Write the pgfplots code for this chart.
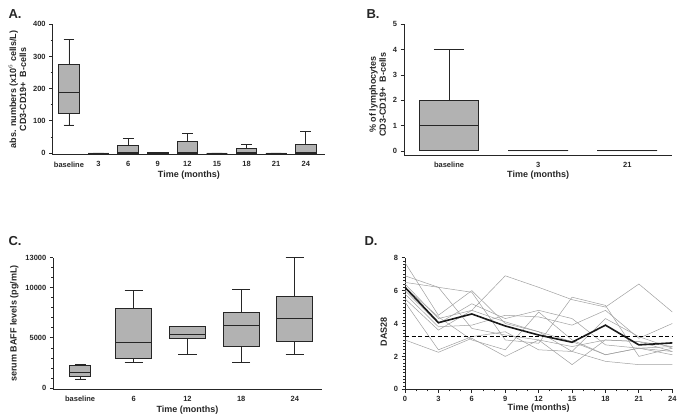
\documentclass[border=0pt]{standalone}
\usepackage{fontspec}
\setmainfont{Liberation Sans}
\usepackage{pgfplots}
\pgfplotsset{compat=1.18}
\usepgfplotslibrary{statistics}
\definecolor{boxfill}{HTML}{B2B2B2}
\definecolor{axcol}{HTML}{262626}
\definecolor{pline}{HTML}{A0A0A0}
\pgfplotsset{
  gp/.style={
    scale only axis,
    axis lines=left,
    axis line style={axcol, line width=0.9pt, -},
    tick align=outside,
    tick style={axcol, line width=0.8pt},
    major tick length=3.5pt,
    minor tick length=2pt,
    tick label style={font=\bfseries\fontsize{7.5}{8.5}\selectfont, text=axcol},
    label style={font=\bfseries\fontsize{9}{10}\selectfont, text=axcol},
    /pgf/number format/assume math mode=true,
    /pgf/number format/1000 sep={},
    scaled ticks=false,
    clip=false,
    boxplot/draw direction=y,
    xlabel={Time (months)},
    xlabel style={inner sep=0pt, yshift=0pt},
    ylabel style={align=center},
  },
  bx/.style={draw=axcol, fill=boxfill, line width=0.9pt, solid, mark=none},
}
\begin{document}
\begin{tikzpicture}
\useasboundingbox (0,0) rectangle (685pt,417pt);
% panel labels
\node[font=\bfseries\fontsize{13}{14}\selectfont, anchor=west, text=axcol] at (5pt,402.5pt) {A.};
\node[font=\bfseries\fontsize{13}{14}\selectfont, anchor=west, text=axcol] at (363pt,403pt) {B.};
\node[font=\bfseries\fontsize{13}{14}\selectfont, anchor=west, text=axcol] at (5pt,176pt) {C.};
\node[font=\bfseries\fontsize{13}{14}\selectfont, anchor=west, text=axcol] at (361pt,176pt) {D.};

% ---------- A ----------
\begin{axis}[gp,
  at={(52.7pt,262.4pt)}, anchor=south west,
  width=272.3pt, height=130.3pt,
  xmin=-0.55, xmax=8.65, ymin=-5, ymax=400,
  xtick={0,...,8},
  xticklabels={baseline,3,6,9,12,15,18,21,24},
  x tick style={draw=none},
  ytick={0,100,200,300,400},
  minor y tick num=1,
  ylabel={abs. numbers (x10$^{6}$ cells/L)\\CD3-CD19+\ \ B-cells},
]
\addplot[bx, boxplot prepared={draw position=0, lower whisker=87, lower quartile=123, median=188, upper quartile=275, upper whisker=352, box extend=0.7, whisker extend=0.36}] coordinates {};
\addplot[bx, boxplot prepared={draw position=1, lower whisker=0, lower quartile=0, median=0, upper quartile=0, upper whisker=0, box extend=0.7, whisker extend=0.36}] coordinates {};
\addplot[bx, boxplot prepared={draw position=2, lower whisker=0, lower quartile=0, median=1, upper quartile=22, upper whisker=46, box extend=0.7, whisker extend=0.36}] coordinates {};
\addplot[bx, boxplot prepared={draw position=3, lower whisker=0, lower quartile=0, median=1, upper quartile=3, upper whisker=3, box extend=0.7, whisker extend=0.36}] coordinates {};
\addplot[bx, boxplot prepared={draw position=4, lower whisker=0, lower quartile=0, median=1, upper quartile=35, upper whisker=60, box extend=0.7, whisker extend=0.36}] coordinates {};
\addplot[bx, boxplot prepared={draw position=5, lower whisker=0, lower quartile=0, median=0, upper quartile=0, upper whisker=0, box extend=0.7, whisker extend=0.36}] coordinates {};
\addplot[bx, boxplot prepared={draw position=6, lower whisker=0, lower quartile=0, median=1, upper quartile=15, upper whisker=26, box extend=0.7, whisker extend=0.36}] coordinates {};
\addplot[bx, boxplot prepared={draw position=7, lower whisker=0, lower quartile=0, median=0, upper quartile=0, upper whisker=0, box extend=0.7, whisker extend=0.36}] coordinates {};
\addplot[bx, boxplot prepared={draw position=8, lower whisker=0, lower quartile=0, median=1, upper quartile=28, upper whisker=67, box extend=0.7, whisker extend=0.36}] coordinates {};
\end{axis}

% ---------- B ----------
\begin{axis}[gp,
  at={(404pt,262pt)}, anchor=south west,
  width=268.3pt, height=130.7pt,
  xmin=-0.505, xmax=2.505, ymin=-0.16, ymax=5,
  xtick={0,1,2},
  xticklabels={baseline,3,21},
  x tick style={draw=none},
  ytick={0,1,2,3,4,5},
  ylabel={\%\ of lymphocytes\\CD3-CD19+\ \ B-cells},
  ylabel style={xshift=-5pt},
]
\addplot[bx, boxplot prepared={draw position=0, lower whisker=0, lower quartile=0, median=1, upper quartile=2, upper whisker=4, box extend=0.67, whisker extend=0.34}] coordinates {};
\addplot[bx, boxplot prepared={draw position=1, lower whisker=0, lower quartile=0, median=0, upper quartile=0, upper whisker=0, box extend=0.67, whisker extend=0.34}] coordinates {};
\addplot[bx, boxplot prepared={draw position=2, lower whisker=0, lower quartile=0, median=0, upper quartile=0, upper whisker=0, box extend=0.67, whisker extend=0.34}] coordinates {};
\end{axis}

% ---------- C (values in thousands of pg/mL) ----------
\begin{axis}[gp,
  at={(53.3pt,27.5pt)}, anchor=south west,
  width=268.4pt, height=131.8pt,
  xmin=-0.5, xmax=4.5, ymin=-0.15, ymax=13,
  xtick={0,...,4},
  xticklabels={baseline,6,12,18,24},
  x tick style={draw=none},
  ytick={0,5,10,13},
  yticklabels={0,5000,10000,13000},
  minor ytick={1,2,3,4,6,7,8,9,11,12},
  ylabel={serum BAFF levels (pg/mL)},
]
\addplot[bx, boxplot prepared={draw position=0, lower whisker=0.90, lower quartile=1.15, median=1.55, upper quartile=2.20, upper whisker=2.32, box extend=0.39, whisker extend=0.2}] coordinates {};
\addplot[bx, boxplot prepared={draw position=1, lower whisker=2.50, lower quartile=2.92, median=4.52, upper quartile=7.96, upper whisker=9.70, box extend=0.67, whisker extend=0.34}] coordinates {};
\addplot[bx, boxplot prepared={draw position=2, lower whisker=3.34, lower quartile=4.95, median=5.31, upper quartile=6.17, upper whisker=6.17, box extend=0.67, whisker extend=0.34}] coordinates {};
\addplot[bx, boxplot prepared={draw position=3, lower whisker=2.56, lower quartile=4.19, median=6.20, upper quartile=7.49, upper whisker=9.80, box extend=0.67, whisker extend=0.34}] coordinates {};
\addplot[bx, boxplot prepared={draw position=4, lower whisker=3.33, lower quartile=4.65, median=6.93, upper quartile=9.15, upper whisker=13.0, box extend=0.67, whisker extend=0.34}] coordinates {};
\end{axis}

% ---------- D ----------
\begin{axis}[gp,
  at={(405pt,27.7pt)}, anchor=south west,
  width=267.3pt, height=131.6pt,
  xmin=0, xmax=24, ymin=0, ymax=8,
  xtick={0,3,...,24},
  minor x tick num=2,
  ytick={0,2,4,6,8},
  minor y tick num=9,
  ylabel={DAS28},
  ylabel style={xshift=-8pt},
  xlabel style={yshift=1pt},
]
\addplot[pline, line width=0.5pt] coordinates {(0,7.7)(3,4.5)(6,6.0)(9,4.0)(12,3.5)(15,2.9)(18,2.1)(21,2.5)(24,2.6)};
\addplot[pline, line width=0.5pt] coordinates {(0,6.9)(3,6.2)(6,3.7)(9,3.3)(12,3.0)(15,2.6)(18,3.0)(21,2.9)(24,2.3)};
\addplot[pline, line width=0.5pt] coordinates {(0,6.5)(3,6.2)(6,5.9)(9,3.0)(12,2.8)(15,5.6)(18,5.1)(21,2.0)(24,2.5)};
\addplot[pline, line width=0.5pt] coordinates {(0,6.4)(3,4.3)(6,4.8)(9,6.9)(12,6.2)(15,5.45)(18,5.0)(21,6.4)(24,4.7)};
\addplot[pline, line width=0.5pt] coordinates {(0,6.0)(3,4.0)(6,5.2)(9,4.3)(12,4.8)(15,4.3)(18,2.7)(21,2.5)(24,2.1)};
\addplot[pline, line width=0.5pt] coordinates {(0,5.8)(3,3.8)(6,3.9)(9,4.5)(12,4.4)(15,3.9)(18,4.8)(21,3.1)(24,4.0)};
\addplot[pline, line width=0.5pt] coordinates {(0,5.5)(3,3.6)(6,4.8)(9,4.1)(12,3.5)(15,2.3)(18,1.7)(21,1.5)(24,1.5)};
\addplot[pline, line width=0.5pt] coordinates {(0,5.3)(3,2.4)(6,3.2)(9,3.5)(12,2.4)(15,2.3)(18,4.3)(21,3.2)(24,2.5)};
\addplot[pline, line width=0.5pt] coordinates {(0,3.0)(3,2.25)(6,3.1)(9,2.0)(12,3.0)(15,1.5)(18,3.0)(21,2.9)(24,2.6)};
\addplot[pline, line width=0.5pt] coordinates {(0,6.2)(3,4.4)(6,3.0)(9,2.4)(12,4.7)(15,3.0)(18,2.1)(21,2.5)(24,2.3)};
\addplot[black, line width=0.9pt, dash pattern=on 4pt off 2.5pt] coordinates {(0,3.2)(24,3.2)};
\addplot[black!90, line width=1.6pt] coordinates {(0,6.2)(3,4.05)(6,4.58)(9,3.85)(12,3.3)(15,2.86)(18,3.9)(21,2.7)(24,2.82)};
\end{axis}
\end{tikzpicture}
\end{document}
